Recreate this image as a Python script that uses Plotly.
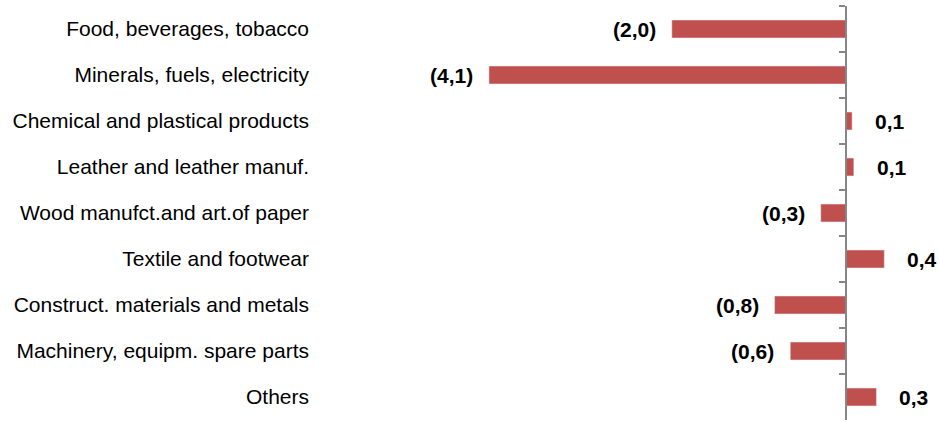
import plotly.graph_objects as go

categories = [
    "Food, beverages, tobacco",
    "Minerals, fuels, electricity",
    "Chemical and plastical products",
    "Leather and leather manuf.",
    "Wood manufct.and art.of paper",
    "Textile and footwear",
    "Construct. materials and metals",
    "Machinery, equipm. spare parts",
    "Others",
]
values = [-2.0, -4.1, 0.07, 0.09, -0.29, 0.44, -0.82, -0.64, 0.35]
labels = ["(2,0)", "(4,1)", "0,1", "0,1", "(0,3)", "0,4", "(0,8)", "(0,6)", "0,3"]

W, H = 939, 422
ML, MR, MT, MB = 320, 0, 6, 2
xmin, xmax = -6.04, 1.068
zero_pos = (0 - xmin) / (xmax - xmin)
bar_color = "#C0504D"
axis_color = "#868686"

fig = go.Figure()
fig.add_trace(go.Bar(
    x=values, y=categories, orientation="h",
    marker=dict(color=bar_color, line=dict(width=0)),
    hoverinfo="skip", yaxis="y",
))
# invisible copy on secondary axis to draw the zero axis line with boundary ticks
fig.add_trace(go.Bar(
    x=values, y=categories, orientation="h",
    marker=dict(color="rgba(0,0,0,0)"), hoverinfo="skip", yaxis="y2",
    showlegend=False,
))

for c, v, t in zip(categories, values, labels):
    fig.add_annotation(
        x=v, y=c, text="<b>" + t + "</b>", showarrow=False,
        xanchor="right" if v < 0 else "left",
        xshift=-14 if v < 0 else 21,
        yanchor="middle",
        font=dict(family="Liberation Sans, Arial", size=21, color="#000000"),
    )

yrange = [len(categories) - 0.5, -0.5]
fig.update_layout(
    width=W, height=H,
    margin=dict(l=ML, r=MR, t=MT, b=MB),
    paper_bgcolor="white", plot_bgcolor="white",
    showlegend=False,
    bargap=0.61,
    barmode="overlay",
    font=dict(family="Liberation Sans, Arial", color="#000000"),
    xaxis=dict(range=[xmin, xmax], visible=False, showgrid=False, zeroline=False),
    yaxis=dict(
        type="category", categoryorder="array", categoryarray=categories,
        range=yrange, showline=False, showgrid=False, zeroline=False,
        ticks="", ticklabelstandoff=10, automargin=False,
        tickfont=dict(family="Liberation Sans, Arial", size=21, color="#000000"),
    ),
    yaxis2=dict(
        type="category", categoryorder="array", categoryarray=categories,
        range=yrange, overlaying="y", anchor="free", position=zero_pos, side="left",
        showline=True, linecolor=axis_color, linewidth=1.5,
        ticks="outside", tickson="boundaries", ticklen=6, tickcolor=axis_color, tickwidth=1.5,
        showticklabels=False, showgrid=False, zeroline=False,
    ),
)

fig.write_html("out.html", config={"displayModeBar": False},
               post_script="document.body.style.margin='0';")
